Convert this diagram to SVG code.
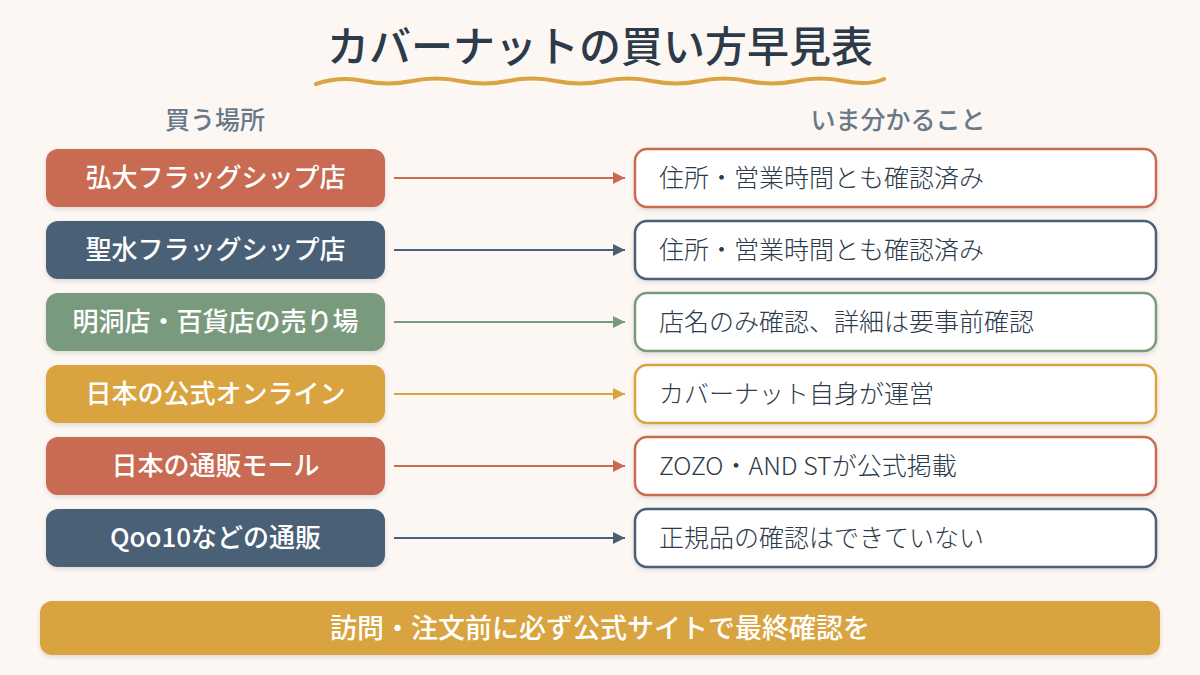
<svg xmlns="http://www.w3.org/2000/svg" width="1200" height="675" viewBox="0 0 1200 675">
<defs>
<style>
.jp{font-family:"Noto Sans CJK JP","Noto Sans",sans-serif;}
.title{font-size:42px;font-weight:500;fill:#2C3A4A;}
.head{font-size:25px;font-weight:500;fill:#687A8A;}
.lt{font-size:26px;font-weight:500;fill:#FFFFFF;}
.rt{font-size:25px;font-weight:300;fill:#2C3A4A;}
.rbox{fill:#FFFFFF;stroke-width:2.5;}
.conn{stroke-width:2;fill:none;}
.red{fill:#C96B52;} .navy{fill:#4A6076;} .green{fill:#7A9A7E;} .gold{fill:#D9A441;}
.sred{stroke:#C96B52;} .snavy{stroke:#4A6076;} .sgreen{stroke:#7A9A7E;} .sgold{stroke:#D9A441;}
</style>
<filter id="sh" x="-5%" y="-10%" width="110%" height="130%"><feDropShadow dx="0" dy="2" stdDeviation="2" flood-color="#000" flood-opacity="0.12"/></filter>
<marker id="ared" viewBox="0 0 10 10" refX="10" refY="5" markerWidth="6" markerHeight="6" orient="auto"><path d="M0,0 L10,5 L0,10 z" fill="#C96B52"/></marker>
<marker id="anavy" viewBox="0 0 10 10" refX="10" refY="5" markerWidth="6" markerHeight="6" orient="auto"><path d="M0,0 L10,5 L0,10 z" fill="#4A6076"/></marker>
<marker id="agreen" viewBox="0 0 10 10" refX="10" refY="5" markerWidth="6" markerHeight="6" orient="auto"><path d="M0,0 L10,5 L0,10 z" fill="#7A9A7E"/></marker>
<marker id="agold" viewBox="0 0 10 10" refX="10" refY="5" markerWidth="6" markerHeight="6" orient="auto"><path d="M0,0 L10,5 L0,10 z" fill="#D9A441"/></marker>
</defs>
<rect width="1200" height="675" fill="#FCF7F3"/>
<g id="title">
<text class="jp title" x="600" y="62" text-anchor="middle">カバーナットの買い方早見表</text>
<path d="M316,84 Q340,76 364,81 T412,81 T460,81 T508,81 T556,81 T604,81 T652,81 T700,81 T748,81 T796,81 T844,81 T884,79" fill="none" stroke="#D9A441" stroke-width="4" stroke-linecap="round"/>
</g>
<g id="headers">
<text class="jp head" x="215" y="129" text-anchor="middle">買う場所</text>
<text class="jp head" x="898" y="129" text-anchor="middle">いま分かること</text>
</g>
<g id="connectors">
<line class="conn sred" x1="394" y1="178" x2="625" y2="178" marker-end="url(#ared)"/>
<line class="conn snavy" x1="394" y1="250" x2="625" y2="250" marker-end="url(#anavy)"/>
<line class="conn sgreen" x1="394" y1="322" x2="625" y2="322" marker-end="url(#agreen)"/>
<line class="conn sgold" x1="394" y1="394" x2="625" y2="394" marker-end="url(#agold)"/>
<line class="conn sred" x1="394" y1="466" x2="625" y2="466" marker-end="url(#ared)"/>
<line class="conn snavy" x1="394" y1="538" x2="625" y2="538" marker-end="url(#anavy)"/>
</g>
<g id="src1"><rect class="red" x="46" y="149" width="339" height="58" rx="12" filter="url(#sh)"/><text class="jp lt" x="215.5" y="187" text-anchor="middle">弘大フラッグシップ店</text></g>
<g id="src2"><rect class="navy" x="46" y="221" width="339" height="58" rx="12" filter="url(#sh)"/><text class="jp lt" x="215.5" y="259" text-anchor="middle">聖水フラッグシップ店</text></g>
<g id="src3"><rect class="green" x="46" y="293" width="339" height="58" rx="12" filter="url(#sh)"/><text class="jp lt" x="215.5" y="331" text-anchor="middle">明洞店・百貨店の売り場</text></g>
<g id="src4"><rect class="gold" x="46" y="365" width="339" height="58" rx="12" filter="url(#sh)"/><text class="jp lt" x="215.5" y="403" text-anchor="middle">日本の公式オンライン</text></g>
<g id="src5"><rect class="red" x="46" y="437" width="339" height="58" rx="12" filter="url(#sh)"/><text class="jp lt" x="215.5" y="475" text-anchor="middle">日本の通販モール</text></g>
<g id="src6"><rect class="navy" x="46" y="509" width="339" height="58" rx="12" filter="url(#sh)"/><text class="jp lt" x="215.5" y="547" text-anchor="middle">Qoo10などの通販</text></g>
<g id="info1"><rect class="rbox sred" x="635" y="149" width="521" height="58" rx="12" filter="url(#sh)"/><text class="jp rt" x="659" y="187">住所・営業時間とも確認済み</text></g>
<g id="info2"><rect class="rbox snavy" x="635" y="221" width="521" height="58" rx="12" filter="url(#sh)"/><text class="jp rt" x="659" y="259">住所・営業時間とも確認済み</text></g>
<g id="info3"><rect class="rbox sgreen" x="635" y="293" width="521" height="58" rx="12" filter="url(#sh)"/><text class="jp rt" x="659" y="331">店名のみ確認、詳細は要事前確認</text></g>
<g id="info4"><rect class="rbox sgold" x="635" y="365" width="521" height="58" rx="12" filter="url(#sh)"/><text class="jp rt" x="659" y="403">カバーナット自身が運営</text></g>
<g id="info5"><rect class="rbox sred" x="635" y="437" width="521" height="58" rx="12" filter="url(#sh)"/><text class="jp rt" x="659" y="475">ZOZO・AND  STが公式掲載</text></g>
<g id="info6"><rect class="rbox snavy" x="635" y="509" width="521" height="58" rx="12" filter="url(#sh)"/><text class="jp rt" x="659" y="547">正規品の確認はできていない</text></g>
<g id="banner"><rect class="gold" x="40" y="601" width="1120" height="54" rx="12" filter="url(#sh)"/><text class="jp" x="600" y="638" text-anchor="middle" style="font-size:27px;font-weight:500;fill:#FFFFFF">訪問・注文前に必ず公式サイトで最終確認を</text></g>
</svg>
